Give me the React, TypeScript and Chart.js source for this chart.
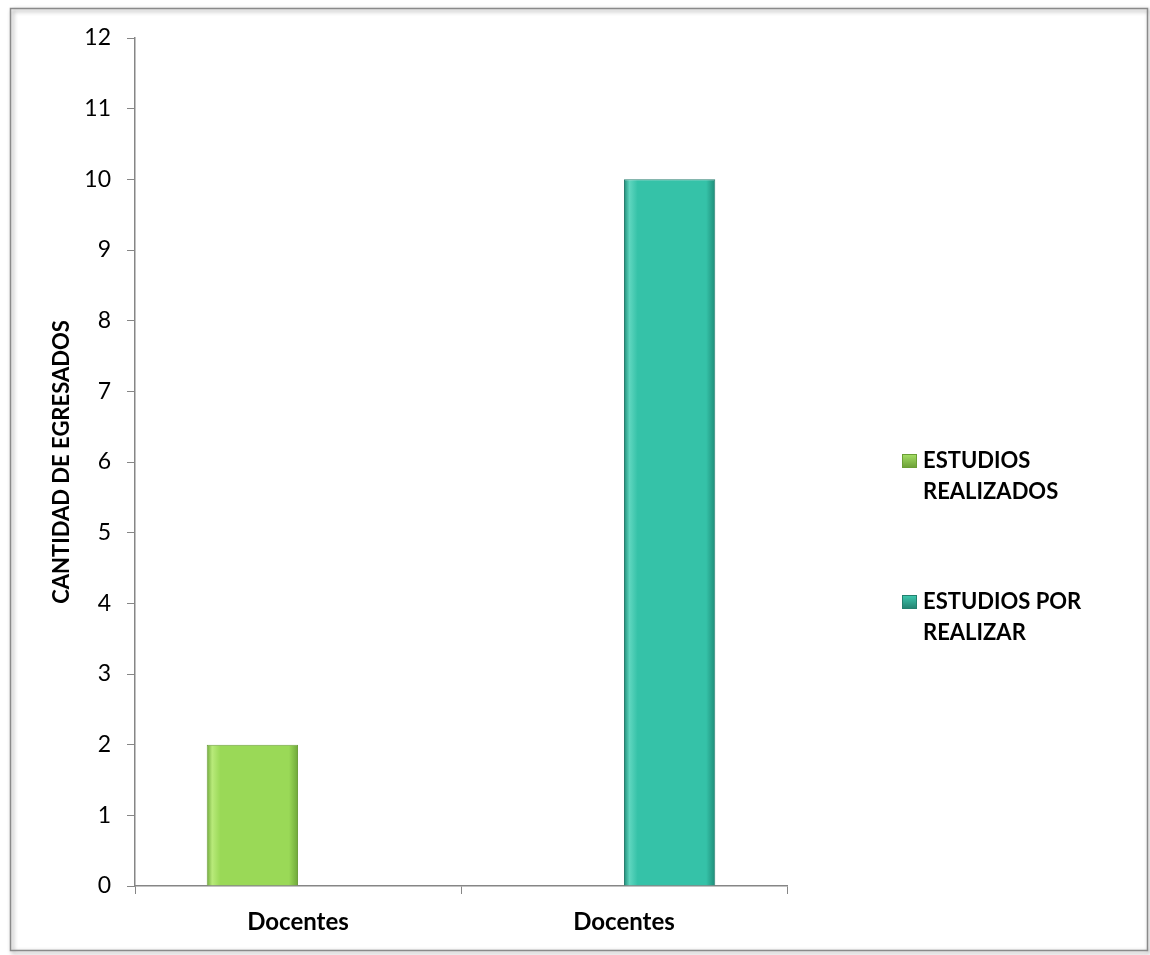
import React, { useEffect, useRef } from "react";
import { Chart, registerables } from "chart.js";

Chart.register(...registerables);

const categories = ["Docentes", "Docentes"];
const realizados = [2, 0];
const porRealizar = [0, 10];
const seriesNames = [["ESTUDIOS", "REALIZADOS"], ["ESTUDIOS POR", "REALIZAR"]];
const yTitle = "CANTIDAD DE EGRESADOS";

const FONT = "Lato, 'Open Sans', sans-serif";
const CAT_PCT = 0.56;

const bevel = (base: string, dark: string, light: string) => (ctx: any) => {
  const chart = ctx.chart;
  const xs = chart.scales && chart.scales.x;
  if (!xs || !chart.chartArea || ctx.dataIndex === undefined) return base;
  const center = xs.getPixelForValue(ctx.dataIndex);
  const catW = (xs.right - xs.left) / categories.length;
  const w = (catW * CAT_PCT) / 2;
  const x0 = ctx.datasetIndex === 0 ? center - w : center;
  const x1 = x0 + w;
  if (!isFinite(x0) || !isFinite(x1) || x1 <= x0) return base;
  const g = chart.ctx.createLinearGradient(x0, 0, x1, 0);
  g.addColorStop(0, dark);
  g.addColorStop(0.06, light);
  g.addColorStop(0.15, base);
  g.addColorStop(0.9, base);
  g.addColorStop(1, dark);
  return g;
};

const framePlugin = {
  id: "frame",
  beforeDraw(chart: any) {
    const c = chart.ctx;
    c.save();
    c.fillStyle = "#ffffff";
    c.fillRect(0, 0, chart.width, chart.height);
    c.shadowColor = "rgba(0,0,0,0.45)";
    c.shadowBlur = 4;
    c.shadowOffsetX = 2;
    c.shadowOffsetY = 2;
    c.strokeStyle = "#8a8a8a";
    c.lineWidth = 1.5;
    c.strokeRect(10.5, 8.5, 1137, 942);
    c.restore();
  },
};

const legendPlugin = {
  id: "customLegend",
  afterDraw(chart: any) {
    const c = chart.ctx;
    const colors = [
      ["#a6e066", "#6a9e35"],
      ["#3fcab0", "#23806f"],
    ];
    const tops = [461, 602];
    c.save();
    c.font = `bold 22px ${FONT}`;
    c.textBaseline = "middle";
    c.fillStyle = "#000";
    chart.data.datasets.forEach((ds: any, i: number) => {
      const y = tops[i];
      const g = c.createLinearGradient(902, y - 7, 902, y + 7);
      g.addColorStop(0, colors[i][0]);
      g.addColorStop(1, colors[i][1]);
      c.fillStyle = g;
      c.fillRect(902, y - 7, 15, 14);
      c.strokeStyle = colors[i][1];
      c.lineWidth = 1;
      c.strokeRect(902.5, y - 6.5, 14, 13);
      c.fillStyle = "#000";
      const lines: string[] = seriesNames[i];
      lines.forEach((t, k) => c.fillText(t, 923, y + k * 31));
    });
    c.restore();
  },
};

export default function App() {
  const ref = useRef<HTMLCanvasElement | null>(null);
  useEffect(() => {
    document.body.style.margin = "0";
    if (!ref.current) return;
    const chart = new Chart(ref.current, {
      type: "bar",
      data: {
        labels: categories,
        datasets: [
          {
            label: seriesNames[0].join(" "),
            data: realizados,
            backgroundColor: bevel("#9ad957", "#6fa83a", "#b8ea7a"),
            borderColor: "#6f9f3f",
            borderWidth: 1,
            categoryPercentage: CAT_PCT,
            barPercentage: 1,
          },
          {
            label: seriesNames[1].join(" "),
            data: porRealizar,
            backgroundColor: bevel("#35c2a8", "#1f8c78", "#5fd6bf"),
            borderColor: "#2a7f70",
            borderWidth: 1,
            categoryPercentage: CAT_PCT,
            barPercentage: 1,
          },
        ],
      },
      options: {
        animation: false,
        responsive: false,
        layout: { padding: { left: 10, right: 363, top: 38, bottom: 0 } },
        plugins: {
          legend: { display: false },
          tooltip: { enabled: false },
        },
        scales: {
          x: {
            grid: {
              drawOnChartArea: false,
              drawTicks: true,
              tickLength: 8,
              color: "#868686",
              offset: true,
            },
            border: { color: "#868686", width: 1.5 },
            ticks: {
              color: "#000",
              font: { family: FONT, size: 24, weight: "bold" },
              padding: 14,
            },
            afterFit: (s: any) => {
              s.height = 69;
            },
          },
          y: {
            min: 0,
            max: 12,
            ticks: {
              stepSize: 1,
              color: "#000",
              font: { family: FONT, size: 23 },
              padding: 16,
            },
            grid: {
              drawOnChartArea: false,
              drawTicks: true,
              tickLength: 8,
              color: "#868686",
            },
            border: { color: "#868686", width: 1.5 },
            title: {
              display: true,
              text: yTitle,
              color: "#000",
              font: { family: FONT, size: 22, weight: "bold" },
              padding: { top: 39, bottom: 0 },
            },
            afterFit: (s: any) => {
              s.width = 125;
            },
          },
        },
      },
      plugins: [framePlugin, legendPlugin],
    });
    return () => chart.destroy();
  }, []);
  return <canvas ref={ref} width={1150} height={955} style={{ display: "block" }} />;
}
